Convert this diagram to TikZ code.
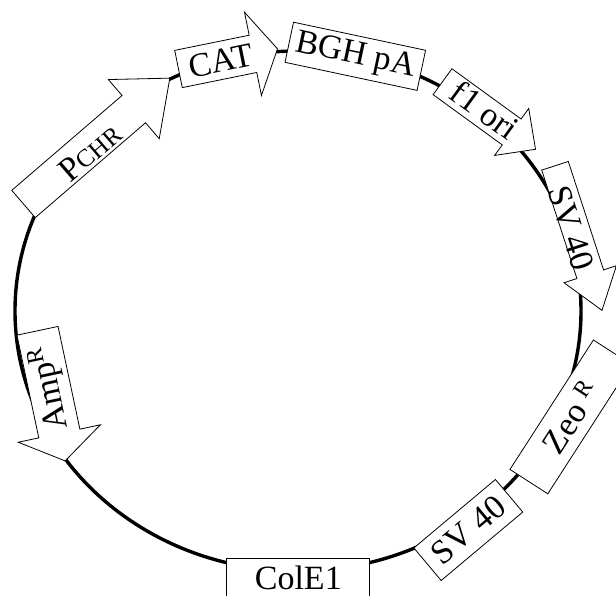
\documentclass[tikz,border=0pt]{standalone}
\usepackage{fontspec}
\setmainfont{Liberation Serif}

\begin{document}
\begin{tikzpicture}[
  x=1pt, y=-1pt,
  every node/.style={font=\fontsize{34}{36}\selectfont},
  backbone/.style={line width=3.4pt, color=black},
  gene/.style={draw=black, fill=white, line width=0.8pt},
  element/.style={
    rectangle, draw=black, fill=white, line width=0.8pt,
    inner sep=0pt,
  },
  tag/.style={inner sep=0pt},
]

\useasboundingbox (0,0) rectangle (616,596);
\clip (0,0) rectangle (616,596);

% plasmid backbone
\draw[backbone] (298,311) ellipse [x radius=283pt, y radius=260pt];

% arrows (genes / promoters)
\draw[gene, shift={(23.5,204)}, rotate=40.7]
  (0,-18) -- (145.5,-18) -- (145.5,-39) -- (193,0) -- (145.5,39) -- (145.5,18) -- (0,18) -- cycle;
\node[tag, rotate=40.7] (pchr) at (90,152) {P{\fontsize{25}{27}\selectfont CHR}};

\draw[gene, shift={(178.5,69)}, rotate=11.5]
  (0,-19) -- (76,-19) -- (76,-42.5) -- (101,0) -- (76,42.5) -- (76,19) -- (0,19) -- cycle;
\node[tag, rotate=11.5] (cat) at (221,61) {CAT};

\draw[gene, shift={(442.5,81.7)}, rotate=-36]
  (0,-16) -- (85.5,-16) -- (85.5,-29) -- (115,0) -- (85.5,29) -- (85.5,16) -- (0,16) -- cycle;
\node[tag, rotate=-36] (fori) at (485,110) {f1 ori};

\draw[gene, shift={(555,165.8)}, rotate=-72]
  (0,-14) -- (114,-14) -- (114,-27.5) -- (152,0) -- (114,27.5) -- (114,14) -- (0,14) -- cycle;
\node[tag, rotate=-72] (svtop) at (571,228) {SV 40};

\draw[gene, shift={(37.5,330.8)}, rotate=-78]
  (0,-21) -- (105,-21) -- (105,-42) -- (133,0) -- (105,42) -- (105,21) -- (0,21) -- cycle;
\node[tag, rotate=102] (amp) at (50,388) {Amp\textsuperscript{R}};

% boxes (other elements)
\node[element, rotate=-12, minimum width=135pt, minimum height=41pt] (bgh) at (355.3,56.3) {BGH pA};
\node[element, rotate=57.2, minimum width=154pt, minimum height=45pt] (zeo) at (570.6,416.9) {Zeo \textsuperscript{R}};
\node[element, rotate=40, minimum width=106.5pt, minimum height=42.5pt] (svbot) at (468.3,530) {SV 40};
\node[element, minimum width=143pt, minimum height=40pt] (cole) at (298.3,578) {ColE1};

\end{tikzpicture}
\end{document}
